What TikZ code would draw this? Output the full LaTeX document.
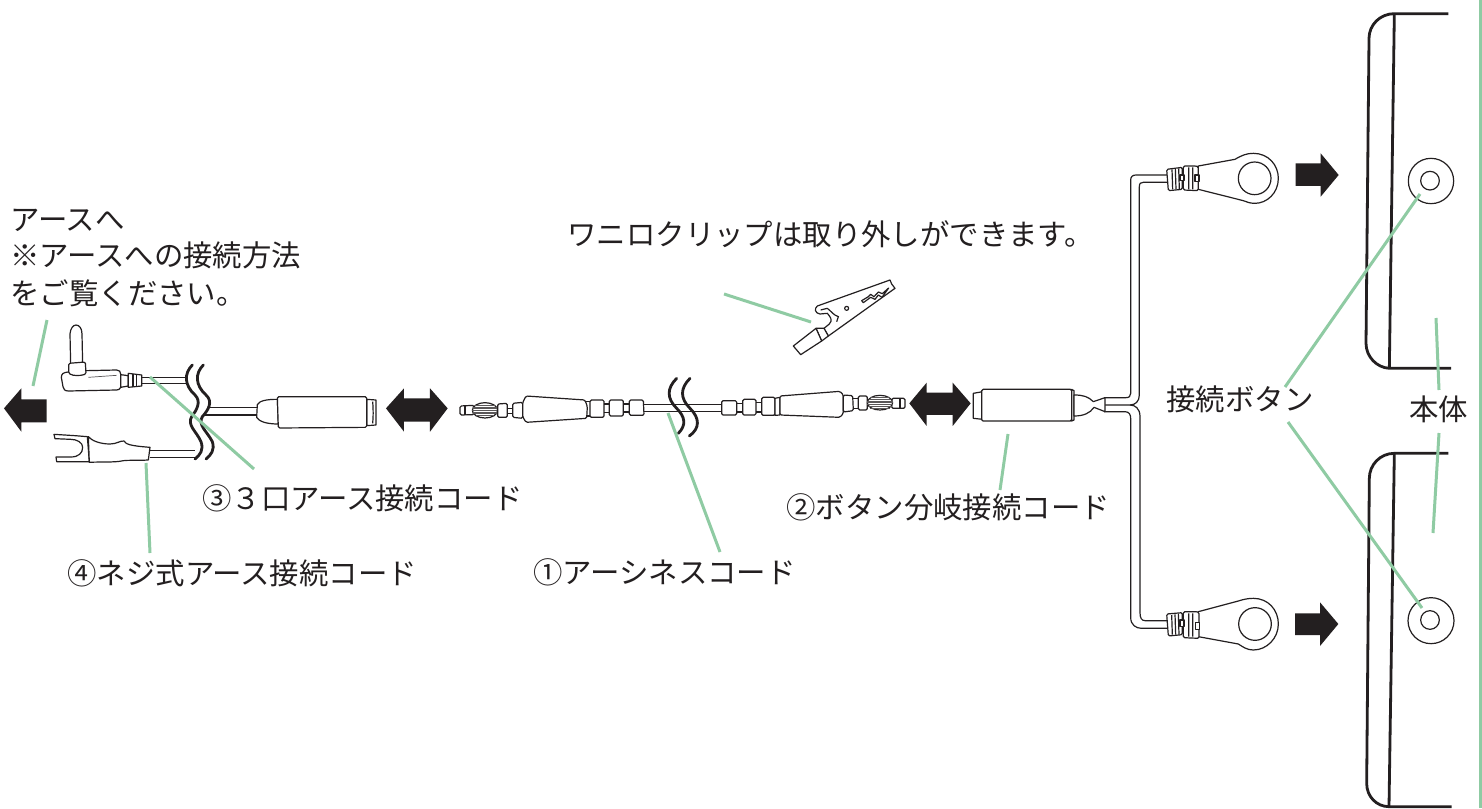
\documentclass[tikz,border=0pt]{standalone}
\usepackage{fontspec}
\setmainfont{Noto Sans CJK JP}
\definecolor{leadgreen}{HTML}{8FCBA3}
\definecolor{ink}{HTML}{231F20}
\tikzset{
  part/.style={draw=ink,line width=0.6pt,fill=white,line join=round},
  softpart/.style={part,rounded corners=0.7pt},
  cable/.style={draw=ink,line width=0.6pt},
  breakwave/.style={draw=ink,line width=1.4pt,line cap=round},
  wall/.style={draw=ink,line width=1.4pt},
  thinring/.style={draw=ink,line width=0.6pt,fill=white},
  blockarrow/.style={fill=ink,draw=none},
  leader/.style={draw=leadgreen,line width=1.5pt},
  rib/.style={draw=ink!75,line width=0.35pt},
  lab/.style={anchor=base west,inner sep=0pt,font=\fontsize{14.7}{17}\selectfont,text=ink},
}
\begin{document}
\begin{tikzpicture}[x=0.5pt,y=-0.5pt]
\useasboundingbox (0,0) rectangle (1482,808);
\fill[white] (0,0) rectangle (1482,808);

% ---------- texts
\node[lab] (earth1) at (10,230) {アースへ};
\node[lab] (earth2) at (10,266) {※アースへの接続方法};
\node[lab] (earth3) at (10,304) {をご覧ください。};
\node[lab] (clipnote) at (567,245) {ワニロクリップは取り外しができます。};
\node[lab] (code3) at (202,509) {③３口アース接続コード};
\node[lab] (code4) at (67,584) {④ネジ式アース接続コード};
\node[lab] (code1) at (533,583) {①アーシネスコード};
\node[lab] (code2) at (786,518) {②ボタン分岐接続コード};
\node[lab] (btn) at (1166,410) {接続ボタン};
\node[lab] (honbody) at (1409,420) {本体};

% ---------- left group, reference zoom coordinates
\begin{scope}[shift={(0,310)},scale=0.33333]
  \fill[blockarrow] (12,295) -- (64,235) -- (64,268) -- (140,268) -- (140,337) -- (64,337) -- (64,365) -- cycle;
  \fill[blockarrow] (1158,295) -- (1212,235) -- (1212,265) -- (1290,265) -- (1290,235) -- (1343,295) -- (1290,365) -- (1290,335) -- (1212,335) -- (1212,365) -- cycle;
  % cables
  \draw[cable] (425,203) -- (556,203) (425,220) -- (562,220);
  \draw[cable] (622,293) -- (772,293) (614,315) -- (772,315);
  \draw[cable] (450,422) -- (585,422) (450,443) -- (585,443);
  % right-angle plug
  \draw[part] (212,165) -- (210,72) .. controls (211,55) and (220,45) .. (228,45) .. controls (238,45) and (246,55) .. (246,72) -- (248,165) -- cycle;
  \draw[part] (258,182) -- (350,180) .. controls (358,180) and (362,185) .. (362,192) -- (362,232) .. controls (360,238) and (355,240) .. (350,240) -- (205,243) .. controls (195,243) and (190,238) .. (189,230) -- (184,202) .. controls (184,192) and (190,187) .. (205,186) -- cycle;
  \draw[softpart] (206,160) -- (256,156) -- (258,192) .. controls (240,198) and (220,198) .. (206,190) -- cycle;
  \draw[rib] (265,202) -- (350,196);
  \draw[part] (362,194) -- (385,197) -- (385,228) -- (362,232) -- cycle;
  \draw[part] (385,190) -- (425,195) -- (425,228) -- (385,232) -- cycle;
  \draw[cable] (399,192) -- (399,230) (410,193) -- (410,229);
  % spade terminal
  \draw[part] (162,373) -- (225,377) -- (262,380) -- (268,455) -- (240,455) -- (170,455) -- (168,441) -- (212,441) .. controls (235,441) and (248,430) .. (248,412) .. controls (248,398) and (232,388) .. (212,388) -- (165,386) -- cycle;
  \draw[part] (265,380) .. controls (275,392) and (300,402) .. (330,402) .. controls (350,402) and (360,392) .. (372,393) .. controls (378,402) and (385,407) .. (450,412) -- (445,450) .. controls (410,452) and (385,450) .. (370,452) .. controls (345,458) and (300,455) .. (268,457) -- cycle;
  % 2-pin socket
  \draw[part] (772,284) .. controls (778,272) and (800,268) .. (832,268) -- (835,342) .. controls (800,342) and (778,335) .. (770,322) -- cycle;
  \draw[part] (1100,268) -- (1128,270) -- (1128,345) -- (1100,347) -- cycle;
  \draw[cable] (1118,275) .. controls (1120,300) and (1120,320) .. (1118,340);
  \draw[softpart] (832,260) -- (1100,260) -- (1100,352) -- (835,354) -- cycle;
  % wave breaks
  \draw[breakwave] (577,165) .. controls (552,190) and (552,225) .. (585,255) .. controls (605,275) and (590,300) .. (575,320) .. controls (560,345) and (590,365) .. (603,395) .. controls (612,420) and (600,435) .. (585,447);
  \draw[breakwave] (610,165) .. controls (585,190) and (585,225) .. (618,255) .. controls (640,275) and (625,300) .. (607,320) .. controls (592,345) and (622,365) .. (637,395) .. controls (645,420) and (633,435) .. (618,447);
\end{scope}

% ---------- centre group
\begin{scope}[shift={(450,260)},scale=0.33333]
  \draw[cable] (580,433) -- (815,433) (580,455) -- (815,455);
  % left end
  \draw[softpart] (30,438) -- (72,436) -- (72,464) -- (30,465) -- cycle;
  \draw[cable] (45,438) -- (45,465);
  \draw[part] (105,451) ellipse [x radius=38,y radius=23];
  \draw[rib] (70,441) -- (140,441) (67,446) -- (143,446) (67,451) -- (143,451) (67,456) -- (143,456) (70,461) -- (140,461) (76,435) -- (134,435) (78,467) -- (132,467);
  \draw[softpart] (143,432) -- (172,430) -- (172,472) -- (143,472) -- cycle;
  \draw[cable] (172,445) -- (188,445) (172,460) -- (188,460);
  \draw[softpart] (188,430) -- (218,427) -- (218,475) -- (188,472) -- cycle;
  \draw[softpart] (218,428) -- (228,408) -- (405,420) -- (412,440) -- (410,475) -- (228,487) -- (218,470) -- cycle;
  \draw[softpart] (420,420) -- (462,420) -- (462,472) -- (420,472) -- cycle;
  \draw[softpart] (478,420) -- (520,420) -- (520,468) -- (478,468) -- cycle;
  \draw[softpart] (538,420) -- (580,420) -- (582,466) -- (538,466) -- cycle;
  \draw[cable] (462,432) -- (478,432) (462,458) -- (478,458) (520,432) -- (538,432) (520,456) -- (538,456) (406,425) -- (420,425) (408,468) -- (420,468);
  % right end
  \draw[softpart] (815,422) -- (860,422) -- (860,465) -- (815,465) -- cycle;
  \draw[softpart] (878,418) -- (918,418) -- (918,465) -- (878,465) -- cycle;
  \draw[softpart] (935,412) -- (975,412) -- (975,466) -- (935,466) -- cycle;
  \draw[part] (975,415) -- (990,412) -- (990,465) -- (975,466) -- cycle;
  \draw[cable] (860,430) -- (878,430) (860,456) -- (878,456) (918,428) -- (935,428) (918,456) -- (935,456);
  \draw[softpart] (990,408) -- (1170,394) -- (1180,405) -- (1180,460) -- (1170,472) -- (990,465) -- cycle;
  \draw[softpart] (1180,405) -- (1208,407) -- (1210,452) -- (1180,456) -- cycle;
  \draw[softpart] (1225,408) -- (1252,408) -- (1252,450) -- (1225,450) -- cycle;
  \draw[cable] (1210,415) -- (1225,415) (1210,445) -- (1225,445);
  \draw[softpart] (1325,415) -- (1365,415) -- (1365,445) -- (1325,445) -- cycle;
  \draw[cable] (1350,415) -- (1350,445);
  \draw[part] (1290,428) ellipse [x radius=38,y radius=22];
  \draw[rib] (1256,418) -- (1324,418) (1252,423) -- (1328,423) (1252,428) -- (1328,428) (1252,433) -- (1328,433) (1255,438) -- (1325,438) (1260,412) -- (1320,412) (1260,444) -- (1320,444);
  % wave breaks
  \draw[breakwave] (680,355) .. controls (650,385) and (650,415) .. (680,445) .. controls (705,470) and (710,495) .. (685,520);
  \draw[breakwave] (720,355) .. controls (690,385) and (690,415) .. (720,445) .. controls (750,475) and (750,505) .. (718,528);
  % clip
  \draw[part] (1320,60) -- (1102,138) .. controls (1092,146) and (1095,160) .. (1110,162) -- (1132,160) .. controls (1140,170) and (1150,180) .. (1138,192) -- (1122,205) -- (1135,228) -- (1335,85) -- (1325,72) -- cycle;
  \draw[part] (1098,205) -- (1122,205) -- (1135,228) -- (1115,243) -- cycle;
  \draw[part] (1098,205) -- (1030,258) -- (1052,284) -- (1115,243) -- cycle;
  \draw[cable] (1132,145) .. controls (1145,155) and (1150,165) .. (1165,170) -- (1160,185) (1112,150) -- (1132,145);
  \draw[part] (1190,145) circle [radius=6];
  \draw[part] (1235,122) -- (1255,110) -- (1262,103) -- (1272,110) -- (1285,96) -- (1297,101) -- (1316,84) -- (1296,112) -- (1285,105) -- (1275,118) -- (1262,112) -- (1240,128) -- cycle;
\end{scope}

% ---------- right group
\begin{scope}[shift={(900,130)},scale=0.33333]
  \fill[blockarrow] (28,820) -- (80,758) -- (80,788) -- (158,788) -- (158,758) -- (212,820) -- (158,888) -- (158,855) -- (80,855) -- (80,888) -- cycle;
  \fill[blockarrow] (1187,100) -- (1262,100) -- (1262,70) -- (1316,135) -- (1262,200) -- (1262,168) -- (1187,168) -- cycle;
  % cables
  \draw[cable] (612,803) -- (678,803) .. controls (688,803) and (692,798) .. (692,790) -- (692,150) .. controls (692,140) and (698,135) .. (708,135) -- (802,135);
  \draw[cable] (612,825) -- (690,825) .. controls (705,825) and (718,815) .. (718,795) -- (718,170) .. controls (718,160) and (722,157) .. (730,157) -- (802,157);
  \draw[cable] (690,825) .. controls (705,825) and (720,835) .. (720,860) -- (720,1448) .. controls (720,1464) and (725,1472) .. (735,1472) -- (802,1472);
  \draw[cable] (612,845) -- (675,845) .. controls (688,845) and (692,855) .. (692,865) -- (692,1462) .. controls (692,1485) and (708,1495) .. (725,1495) -- (802,1495);
  % socket
  \draw[part] (220,790) -- (248,785) -- (248,868) -- (220,865) -- cycle;
  \draw[softpart] (245,778) -- (515,778) -- (515,873) -- (245,873) -- cycle;
  \draw[part] (515,778) -- (522,782) -- (522,870) -- (515,873) -- cycle;
  \draw[part] (522,795) .. controls (550,795) and (565,800) .. (580,815) -- (615,803) -- (615,845) -- (582,832) .. controls (570,850) and (550,858) .. (522,858) -- cycle;
  % ring terminal
  \draw[part] (895,108) -- (1005,88) .. controls (1025,76) and (1040,70) .. (1060,70) .. controls (1105,70) and (1135,105) .. (1135,145) .. controls (1135,190) and (1100,220) .. (1065,220) .. controls (1050,220) and (1040,216) .. (1030,212) -- (895,178) -- cycle;
  \draw[part] (1064,145) circle [radius=49];
  \draw[softpart] (800,118) -- (847,112) -- (847,178) -- (805,182) -- cycle;
  \draw[softpart] (850,108) -- (888,108) -- (895,110) -- (895,182) -- (850,180) -- cycle;
  \draw[cable] (816,118) -- (818,178) (826,116) -- (828,178) (836,115) -- (838,178) (866,112) -- (866,178) (878,112) -- (878,178);
  \draw[part] (840,135) rectangle (852,152);
  \draw[part] (885,135) rectangle (897,155);
\end{scope}

\begin{scope}[shift={(1100,400)},scale=0.33333]
  \fill[blockarrow] (585,640) -- (660,640) -- (660,607) -- (715,672) -- (660,738) -- (660,705) -- (585,705) -- cycle;
  \draw[part] (295,635) -- (415,603) .. controls (430,598) and (445,595) .. (460,595) .. controls (505,595) and (535,630) .. (535,672) .. controls (535,715) and (500,750) .. (460,750) .. controls (440,750) and (428,740) .. (415,732) -- (295,710) -- cycle;
  \draw[part] (465,672) circle [radius=49];
  \draw[softpart] (200,642) -- (247,638) -- (247,704) -- (205,708) -- cycle;
  \draw[softpart] (250,635) -- (290,635) -- (297,637) -- (297,715) -- (250,713) -- cycle;
  \draw[cable] (215,645) -- (217,704) (225,643) -- (227,704) (235,641) -- (237,704) (266,640) -- (266,710) (278,640) -- (278,710);
  \draw[part] (240,660) rectangle (252,680);
  \draw[part] (286,668) rectangle (298,688);
  % lower unit
  \draw[wall] (1045,160) -- (883,160) .. controls (840,160) and (808,195) .. (808,235) -- (800,1150) .. controls (800,1190) and (830,1220) .. (867,1220) -- (1055,1220);
  \draw[wall] (883,160) -- (867,1220);
  \draw[thinring] (993,662) circle [radius=69];
  \draw[thinring] (990,660) circle [radius=28];
\end{scope}

% ---------- upper unit
\begin{scope}[shift={(1340,0)},scale=0.33333]
  \draw[wall] (325,41) -- (163,41) .. controls (120,41) and (87,75) .. (87,115) -- (78,1030) .. controls (78,1070) and (110,1103) .. (148,1105) -- (333,1105);
  \draw[wall] (163,41) -- (148,1105);
  \draw[thinring] (273,543) circle [radius=68];
  \draw[thinring] (270,542) circle [radius=28];
\end{scope}

% ---------- leader lines
\coordinate (L0a) at (47,320);   \coordinate (L0b) at (33,386);
\coordinate (L3a) at (150,377);  \coordinate (L3b) at (254,469);
\coordinate (L4a) at (146,463);  \coordinate (L4b) at (150,553);
\coordinate (L1a) at (668,413);  \coordinate (L1b) at (720,552);
\coordinate (L5a) at (724,294);  \coordinate (L5b) at (811,322);
\coordinate (L2a) at (1008,434); \coordinate (L2b) at (1000,490);
\coordinate (B1a) at (1285,387); \coordinate (B1b) at (1420,194);
\coordinate (B2a) at (1288,422); \coordinate (B2b) at (1422,608);
\coordinate (H1a) at (1436,318); \coordinate (H1b) at (1439,390);
\coordinate (H2a) at (1439,433); \coordinate (H2b) at (1433,533);
\coordinate (Ea) at (1480,0);    \coordinate (Eb) at (1480,808);
\draw[leader] (L0a) -- (L0b);
\draw[leader] (L3a) -- (L3b);
\draw[leader] (L4a) -- (L4b);
\draw[leader] (L1a) -- (L1b);
\draw[leader] (L5a) -- (L5b);
\draw[leader] (L2a) -- (L2b);
\draw[leader] (B1a) -- (B1b);
\draw[leader] (B2a) -- (B2b);
\draw[leader] (H1a) -- (H1b);
\draw[leader] (H2a) -- (H2b);
\draw[leader] (Ea) -- (Eb);
\end{tikzpicture}
\end{document}
